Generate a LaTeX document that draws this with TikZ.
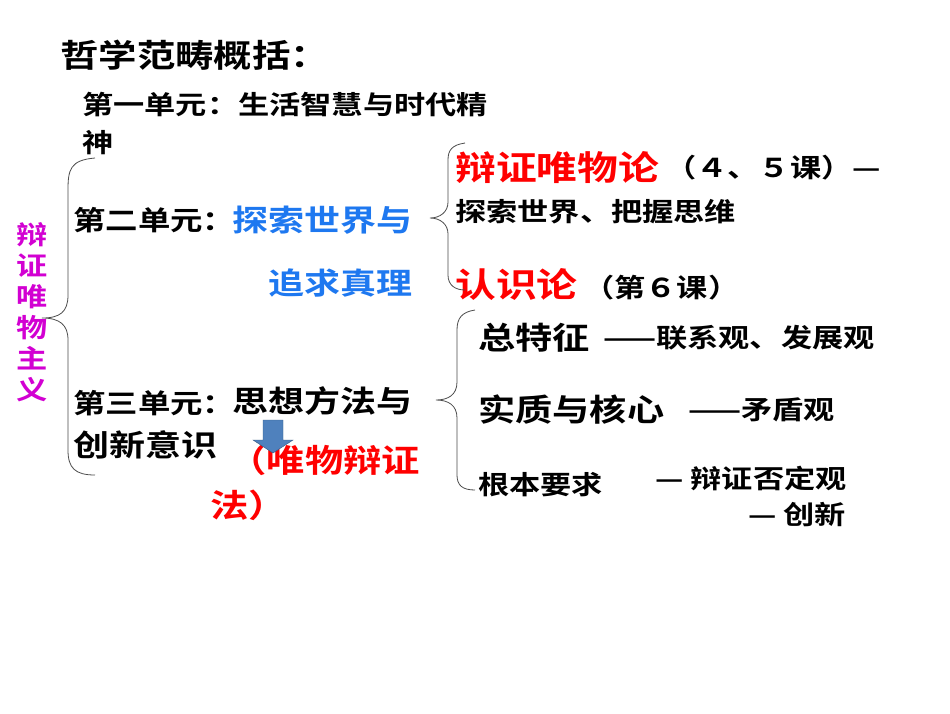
\documentclass[tikz,border=0pt]{standalone}
\usepackage{fontspec}
\setmainfont{Noto Sans CJK SC}[BoldFont={Noto Sans CJK SC Bold},BoldFeatures={FakeStretch=1.2}]
\definecolor{tblue}{RGB}{30,120,240}
\definecolor{tred}{RGB}{255,0,0}
\definecolor{tpurple}{RGB}{210,0,210}
\definecolor{abl}{RGB}{79,129,189}
\tikzset{
 t/.style={anchor=west,inner sep=0pt,font=\bfseries\fontsize{#1}{#1}\selectfont},
 br/.style={draw=black!70,line width=0.8pt}
}
\begin{document}
\begin{tikzpicture}[x=1pt,y=-1pt]
\useasboundingbox[fill=white] (0,0) rectangle (950,713);
\node[t=32] (title) at (60,55) {哲学范畴概括：};
\node[t=26] (u1) at (82,105) {第一单元：生活智慧与时代精};
\node[t=26] (u1b) at (82,143) {神};
\node[t=27] (u2) at (73,220) {第二单元：};
\node[t=30,text=tblue] (u2a) at (232,220) {探索世界与};
\node[t=30,text=tblue] (u2b) at (268,283) {追求真理};
\node[inner sep=0pt,text=tpurple,font=\bfseries\fontsize{26}{31}\selectfont,align=center] (main) at (32,312) {辩\\证\\唯\\物\\主\\义};
\node[t=27] (u3) at (73,403) {第三单元：};
\node[t=30] (u3a) at (232,401) {思想方法与};
\node[t=30] (u3b) at (73,445) {创新意识};
\node[t=32,text=tred] (u3c) at (228,460) {（唯物辩证};
\node[t=32,text=tred] (u3d) at (210,505) {法）};
\node[t=34,text=tred] (r1) at (455,168) {辩证唯物论};
\node[t=26] (r1b) at (665,168) {（４、５课）—};
\node[t=26] (r1c) at (455,212) {探索世界、把握思维};
\node[t=31] (s1) at (478,338) {总特征};
\node[t=26] (s1b) at (603,338) {——联系观、发展观};
\node[t=31] (s2) at (478,410) {实质与核心};
\node[t=26] (s2b) at (688,410) {——矛盾观};
\node[t=34,text=tred] (r2) at (455,285) {认识论};
\node[t=26] (r2b) at (583,288) {（第６课）};
\node[t=26] (s3) at (478,485) {根本要求};
\node[t=26] (s3b) at (655,478) {— 辩证否定观};
\node[t=26] (s3c) at (748,515) {— 创新};
% arrow
\fill[abl,draw=abl!70!black] (263,420) -- (283,420) -- (283,440) -- (293,440) -- (273,453) -- (253,440) -- (263,440) -- cycle;
% braces
\draw[br] (95,158) .. controls (70,160) and (68,170) .. (68,190) -- (68,295) .. controls (68,312) and (60,318) .. (42,318)
          .. controls (60,318) and (68,325) .. (68,340) -- (68,450) .. controls (68,468) and (75,475) .. (95,475);
\draw[br] (465,143) .. controls (452,145) and (448,150) .. (448,160) -- (448,202) .. controls (448,212) and (440,218) .. (430,218)
          .. controls (440,218) and (448,224) .. (448,234) -- (448,275) .. controls (448,285) and (455,290) .. (465,290);
\draw[br] (475,310) .. controls (462,312) and (457,318) .. (457,330) -- (457,382) .. controls (457,395) and (448,400) .. (436,400)
          .. controls (448,400) and (457,405) .. (457,418) -- (457,475) .. controls (457,485) and (462,490) .. (475,490);
\end{tikzpicture}
\end{document}
